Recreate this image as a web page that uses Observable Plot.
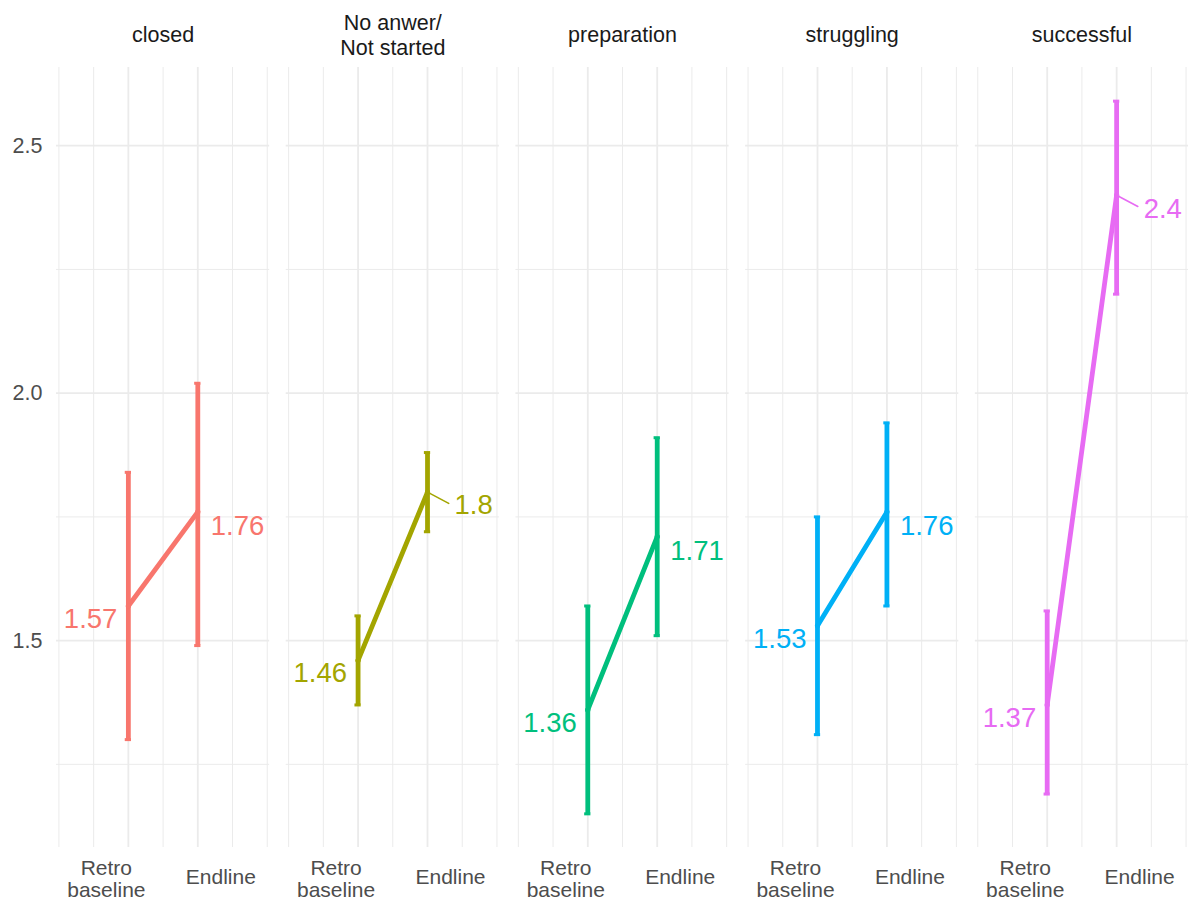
<!DOCTYPE html>
<html>
<head>
<meta charset="utf-8">
<script src="https://cdn.jsdelivr.net/npm/d3@7"></script>
<script src="https://cdn.jsdelivr.net/npm/@observablehq/plot@0.6"></script>
<style>
  html, body { margin: 0; padding: 0; background: #ffffff; }
  #chart { width: 1188px; height: 900px; }
</style>
</head>
<body>
<div id="chart"></div>
<script>
// ---- data ----
const categories = ["closed", "No anwer/\nNot started", "preparation", "struggling", "successful"];
const colors = ["#F8766D", "#A3A500", "#00BF7D", "#00B0F6", "#E76BF3"];
const xTickLabels = ["Retro\nbaseline", "Endline"];
const retroMean = [1.57, 1.46, 1.36, 1.53, 1.37];
const retroLow  = [1.30, 1.37, 1.15, 1.31, 1.19];
const retroHigh = [1.84, 1.55, 1.57, 1.75, 1.56];
const endMean   = [1.76, 1.80, 1.71, 1.76, 2.40];
const endLow    = [1.49, 1.72, 1.51, 1.57, 2.20];
const endHigh   = [2.02, 1.88, 1.91, 1.94, 2.59];
const leaderCats = ["No anwer/\nNot started", "successful"]; // labels pushed aside with a leader line
const yTicks = [1.5, 2.0, 2.5];
const yMinor = [1.25, 1.75, 2.25];

// long table built from the arrays
const rows = [];
categories.forEach((c, i) => {
  rows.push({cat: c, x: 1, mean: retroMean[i], lo: retroLow[i], hi: retroHigh[i]});
  rows.push({cat: c, x: 2, mean: endMean[i], lo: endLow[i], hi: endHigh[i]});
});
const retroRows = rows.filter(d => d.x === 1);
const endRows = rows.filter(d => d.x === 2 && !leaderCats.includes(d.cat));
const leaderRows = rows.filter(d => d.x === 2 && leaderCats.includes(d.cat));

const grid = "#EBEBEB";
const capHalf = 0.045;

const chart = Plot.plot({
  width: 1188,
  height: 900,
  marginTop: 67,
  marginBottom: 53,
  marginLeft: 56,
  marginRight: 0,
  style: {fontFamily: "'Liberation Sans', Arial, sans-serif", fontSize: "21px", color: "#4D4D4D", background: "#ffffff"},
  fx: {domain: categories, paddingInner: 0.072, paddingOuter: 0, round: false, axis: null, label: null},
  x: {domain: [-0.035, 3.035], axis: null},
  y: {domain: [1.082, 2.658], axis: null},
  color: {domain: categories, range: colors},
  marks: [
    Plot.gridY(yMinor, {stroke: grid, strokeOpacity: 1, strokeWidth: 1}),
    Plot.gridY(yTicks, {stroke: grid, strokeOpacity: 1, strokeWidth: 1.8}),
    Plot.gridX([0, 0.5, 1.5, 2.5, 3], {stroke: grid, strokeOpacity: 1, strokeWidth: 1}),
    Plot.gridX([1, 2], {stroke: grid, strokeOpacity: 1, strokeWidth: 1.8}),
    Plot.axisY(yTicks, {tickSize: 0, tickPadding: 14, tickFormat: d3.format(".1f"), fill: "#4D4D4D", fontSize: 21.5}),
    // strip labels
    Plot.text(categories, {fx: d => d, text: d => d, frameAnchor: "top", dy: -33, lineAnchor: "middle", lineHeight: 1.14, fill: "#1A1A1A", fontSize: 21.5}),
    // x tick labels
    Plot.text(categories, {fx: d => d, x: () => 1, text: () => xTickLabels[0], frameAnchor: "bottom", dy: 31, dx: -22, lineAnchor: "middle", lineHeight: 1.05, fill: "#4D4D4D", fontSize: 21}),
    Plot.text(categories, {fx: d => d, x: () => 2, text: () => xTickLabels[1], frameAnchor: "bottom", dy: 30, dx: 23, lineAnchor: "middle", fill: "#4D4D4D", fontSize: 21}),
    // error bars
    Plot.ruleX(rows, {fx: "cat", x: "x", y1: "lo", y2: "hi", stroke: "cat", strokeWidth: 4.8, strokeLinecap: "butt"}),
    Plot.ruleY(rows, {fx: "cat", x1: d => d.x - capHalf, x2: d => d.x + capHalf, y: "hi", stroke: "cat", strokeWidth: 3}),
    Plot.ruleY(rows, {fx: "cat", x1: d => d.x - capHalf, x2: d => d.x + capHalf, y: "lo", stroke: "cat", strokeWidth: 3}),
    // connecting line
    Plot.line(rows, {fx: "cat", x: "x", y: "mean", z: "cat", stroke: "cat", strokeWidth: 4.8}),
    Plot.dot(rows, {fx: "cat", x: "x", y: "mean", r: 2.6, fill: "cat"}),
    // leader lines
    Plot.vector(leaderRows, {fx: "cat", x: "x", y: "mean", length: 24, rotate: 118, anchor: "start", stroke: "cat", strokeWidth: 1.6,
      shape: {draw(context, l) { context.moveTo(0, 0); context.lineTo(0, -l); }}}),
    // value labels
    Plot.text(retroRows, {fx: "cat", x: "x", y: "mean", text: d => String(d.mean), textAnchor: "end", dx: -11, dy: 13, fill: "cat", fontSize: 27.5}),
    Plot.text(endRows, {fx: "cat", x: "x", y: "mean", text: d => String(d.mean), textAnchor: "start", dx: 13, dy: 14, fill: "cat", fontSize: 27.5}),
    Plot.text(leaderRows, {fx: "cat", x: "x", y: "mean", text: d => String(d.mean), textAnchor: "start", dx: 27, dy: 13.5, fill: "cat", fontSize: 27.5})
  ]
});
document.getElementById("chart").appendChild(chart);
</script>
</body>
</html>
